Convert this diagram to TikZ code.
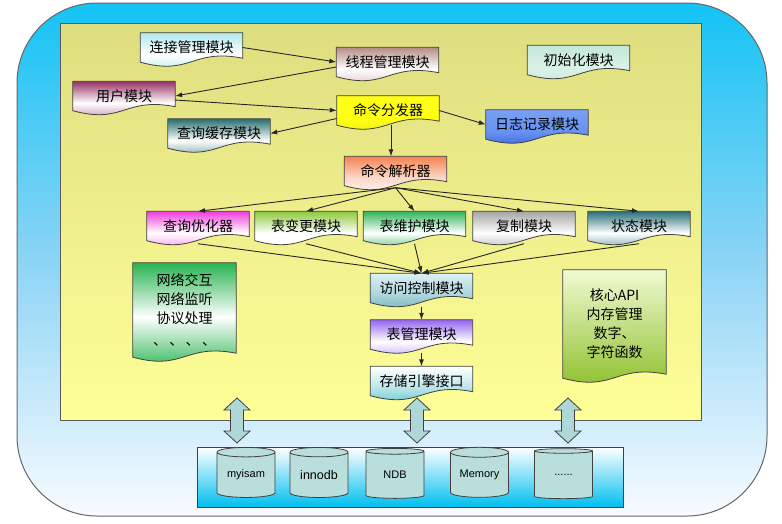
\documentclass[tikz,border=0pt]{standalone}
\usepackage{fontspec}
\setmainfont{Liberation Sans}
\newfontfamily\cjk{Noto Sans CJK SC}
\usetikzlibrary{arrows.meta, calc, shapes.geometric, backgrounds}

% --- frame colours
\definecolor{skyTop}{RGB}{20,195,245}
\definecolor{skyMid}{RGB}{140,212,245}
\definecolor{skyBot}{RGB}{248,251,255}
\definecolor{padTop}{RGB}{222,222,128}
\definecolor{padBot}{RGB}{255,255,152}
\definecolor{engBot}{RGB}{0,190,240}
\definecolor{arrowFill}{RGB}{175,215,215}
\definecolor{diskFill}{RGB}{185,222,220}
% --- module colours
\definecolor{connC}{RGB}{175,232,238}
\definecolor{threadC}{RGB}{180,140,130}
\definecolor{initC}{RGB}{195,232,215}
\definecolor{userC}{RGB}{150,50,100}
\definecolor{dispC}{RGB}{255,255,20}
\definecolor{cacheC}{RGB}{40,110,110}
\definecolor{logT}{RGB}{120,160,245}
\definecolor{logB}{RGB}{40,90,220}
\definecolor{parseC}{RGB}{245,130,80}
\definecolor{optC}{RGB}{240,60,220}
\definecolor{alterC}{RGB}{140,200,60}
\definecolor{maintC}{RGB}{50,180,90}
\definecolor{replC}{RGB}{165,165,165}
\definecolor{statC}{RGB}{40,110,120}
\definecolor{accT}{RGB}{220,240,245}
\definecolor{accB}{RGB}{100,170,180}
\definecolor{tabC}{RGB}{150,100,240}
\definecolor{storC}{RGB}{80,190,200}
\definecolor{netC}{RGB}{40,180,80}
\definecolor{coreT}{RGB}{240,250,210}
\definecolor{coreB}{RGB}{140,190,40}

% document shape behind a named node: name, top, middle, bottom colour
\newcommand\docshape[4]{%
  \path[docline, top color=#2, bottom color=#4, middle color=#3]
    (#1.north west) -- (#1.north east) -- ($(#1.south east)+(0,4pt)$)
    .. controls ($(#1.south)+(0,14pt)$) and ($(#1.south)+(0,-14pt)$) .. (#1.south west)
    -- cycle;
}

\begin{document}
\begin{tikzpicture}[
    x=1pt, y=-1pt,
    every node/.style={font=\cjk\fontsize{14}{17}\selectfont, inner sep=0pt},
    mod/.style={minimum width=102pt, minimum height=29pt},
    note/.style={minimum width=103pt, align=center, font=\cjk\fontsize{14}{19}\selectfont},
    link/.style={draw=black!85, line width=0.9pt, -{Latex[length=7pt, width=5pt]}},
    docline/.style={draw=black!75, line width=0.8pt},
    io/.style={draw=black!75, line width=0.8pt, fill=arrowFill, line join=miter},
    disk/.style={cylinder, shape border rotate=90, aspect=0.25, draw=black!75, line width=0.8pt,
      fill=diskFill, minimum width=58pt, minimum height=50pt, font=\fontsize{11}{13}\selectfont},
  ]
\useasboundingbox (0,0) rectangle (782,523);

% --- top cluster
\node[mod] (conn)     at (191.5,47.5) {连接管理模块};
\node[mod] (thread)   at (387.5,62)   {线程管理模块};
\node[mod] (init)     at (578.5,60)   {初始化模块};
\node[mod] (user)     at (124,96)     {用户模块};
\node[mod] (dispatch) at (388,110.5)  {命令分发器};
\node[mod] (cache)    at (219,133.5)  {查询缓存模块};
\node[mod] (log)      at (537,124.5)  {日志记录模块};
\node[mod] (parse)    at (395.5,171)  {命令解析器};

% --- row of handlers
\def\rRow{226}
\node[mod] (opt)    at (198,\rRow)   {查询优化器};
\node[mod] (alter)  at (306,\rRow)   {表变更模块};
\node[mod] (maint)  at (414.5,\rRow) {表维护模块};
\node[mod] (repl)   at (524,\rRow)   {复制模块};
\node[mod] (status) at (639,\rRow)   {状态模块};

% --- centre column
\def\cCol{421.5}
\node[mod] (access)   at (\cCol,288)   {访问控制模块};
\node[mod] (tablemgr) at (\cCol,334.5) {表管理模块};
\node[mod] (storage)  at (\cCol,381)   {存储引擎接口};

% --- side notes
\node[note, minimum height=94pt]  (net)  at (184.5,310) {网络交互\\网络监听\\协议处理\\[3pt]、\,、\,、\,、};
\node[note, minimum height=108pt] (core) at (614.5,324) {核心API\\内存管理\\数字、\\字符函数};

% --- storage engines
\node[draw=black!75, line width=0.8pt, minimum width=426pt, minimum height=60pt,
  top color=white, bottom color=engBot] (engines) at (410,477) {};
\node[disk] (myisam) at (246,475)   {myisam};
\node[disk, font=\fontsize{12.5}{14}\selectfont] (innodb) at (319,475) {innodb};
\node[disk] (ndb)    at (395,475)   {NDB};
\node[disk] (memory) at (479.5,475) {Memory};
\node[disk] (more)   at (563.5,475) {......};

% --- two-way block arrows
\foreach \x in {237, 417, 568}
  \path[io] (\x,398) -- ++(13,12) -- ++(-6.5,0) -- ++(0,21) -- ++(6.5,0) -- ++(-13,12)
    -- ++(-13,-12) -- ++(6.5,0) -- ++(0,-21) -- ++(-6.5,0) -- cycle;

\begin{pgfonlayer}{background}
  \fill[white] (0,0) rectangle (782,523);
  \path[draw=black!60, line width=1pt, rounded corners=80pt,
    top color=skyTop, bottom color=skyBot, middle color=skyMid] (17,3) rectangle (767,516);
  \path[draw=black!65, line width=0.8pt, top color=padTop, bottom color=padBot] (60,23) rectangle (701,420);
  \foreach \n/\a/\b/\c in {conn/connC/white/connC, thread/threadC/white/threadC!60!white,
      init/initC/initC!60!white/initC, user/userC/white/userC!70!white,
      dispatch/dispC/dispC/dispC!92!black, cache/cacheC/white/cacheC!80!white,
      log/logT/logT!80!logB/logB, parse/parseC/parseC!30!white/white,
      opt/optC/white/optC!70!white, alter/alterC/white/white, maint/maintC/white/maintC,
      repl/replC/white/replC, status/statC/white/statC!80!white,
      access/accT/accT!60!accB/accB, tablemgr/tabC/white/tabC!70!white, storage/white/storC!40!white/storC,
      net/netC/white/netC, core/coreT/coreT!50!coreB/coreB}
    {\docshape{\n}{\a}{\b}{\c}}
\end{pgfonlayer}

% --- connectors
\draw[link] (conn.east) -- (thread.west);
\draw[link] ([yshift=-5pt]thread.west) -- (user.east);
\draw[link] ([yshift=-4pt]user.east) -- (dispatch.west);
\draw[link] ([yshift=-8pt]dispatch.west) -- (cache.east);
\draw[link] (dispatch.east) -- (log.west);
\draw[link] ([xshift=3pt]dispatch.south) -- ([xshift=3pt]dispatch.south |- parse.north);
\foreach \n in {opt, alter, maint, repl, status} {
  \draw[link] ([yshift=-2pt]parse.south) -- (\n.north);
  \draw[link] ([yshift=-3pt]\n.south) -- (access.north);
}
\draw[link] ([yshift=-4pt]access.south) -- (tablemgr.north);
\draw[link] ([yshift=-4pt]tablemgr.south) -- (storage.north);
\end{tikzpicture}
\end{document}
